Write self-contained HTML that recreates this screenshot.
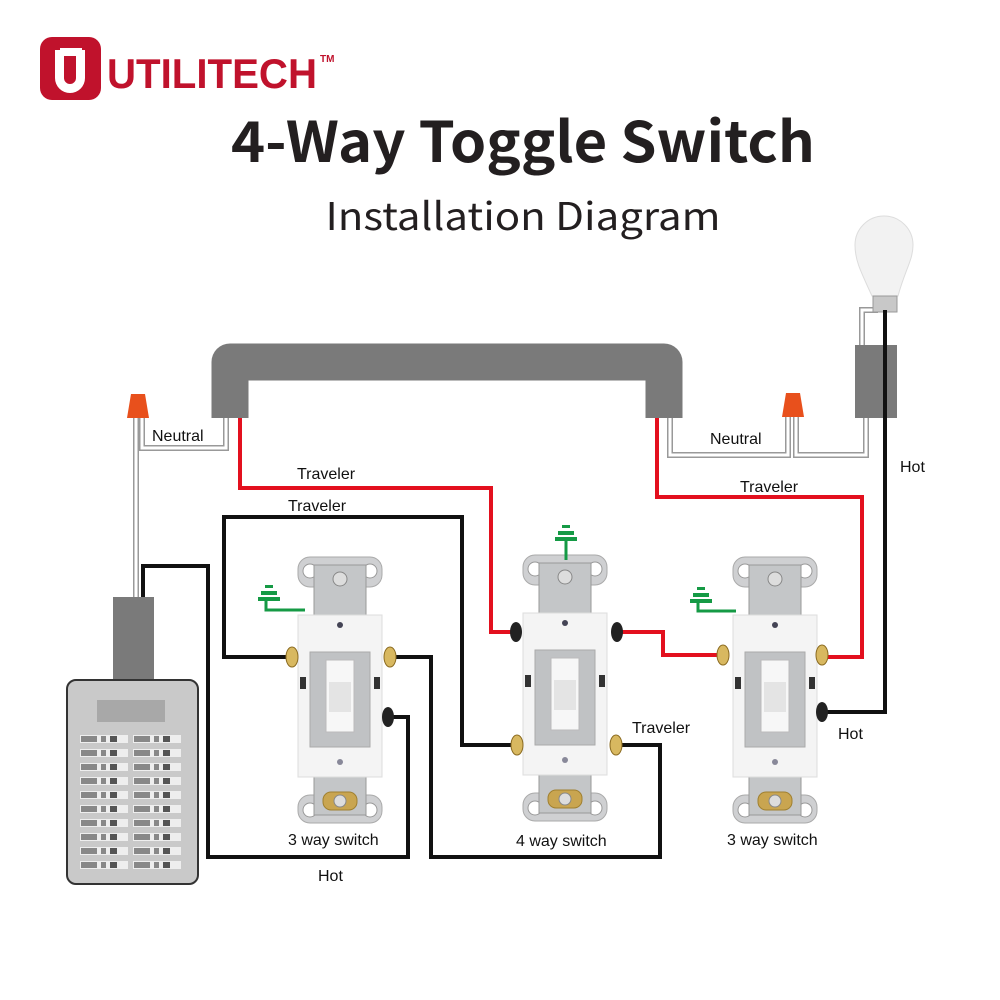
<!DOCTYPE html>
<html><head><meta charset="utf-8"><style>
html,body{margin:0;padding:0;background:#fff;}
svg{display:block;}
text{font-family:"Liberation Sans",Arial,sans-serif;}
.t{font-family:"Noto Sans CJK JP","DejaVu Sans",sans-serif;}
</style></head><body>
<svg width="1000" height="1000" viewBox="0 0 1000 1000" xmlns="http://www.w3.org/2000/svg">
<defs>
<g id="sw">
  <rect x="-42" y="0" width="84" height="30" rx="12" fill="#cfd0d2" stroke="#aaa"/>
  <circle cx="-30" cy="14" r="7" fill="#fff" stroke="#999"/>
  <circle cx="30" cy="14" r="7" fill="#fff" stroke="#999"/>
  <rect x="-42" y="238" width="84" height="28" rx="12" fill="#cfd0d2" stroke="#aaa"/>
  <circle cx="-30" cy="253" r="7" fill="#fff" stroke="#999"/>
  <circle cx="30" cy="253" r="7" fill="#fff" stroke="#999"/>
  <rect x="-26" y="8" width="52" height="250" fill="#c4c6c8" stroke="#999"/>
  <rect x="-42" y="58" width="84" height="162" fill="#f4f4f4" stroke="#ddd"/>
  <rect x="-30" y="95" width="60" height="95" fill="#c0c2c4" stroke="#aaa"/>
  <rect x="-14" y="103" width="28" height="72" fill="#f7f7f7" stroke="#bbb"/>
  <rect x="-11" y="125" width="22" height="30" fill="#e4e4e4"/>
  <circle cx="0" cy="22" r="7" fill="#ddd" stroke="#888"/>
  <circle cx="0" cy="68" r="3" fill="#445"/>
  <circle cx="0" cy="205" r="3" fill="#889"/>
  <rect x="-17" y="235" width="34" height="18" rx="8" fill="#c9a550" stroke="#a08030"/>
  <circle cx="0" cy="244" r="6" fill="#ddd" stroke="#888"/>
  <rect x="-40" y="120" width="6" height="12" fill="#333"/>
  <rect x="34" y="120" width="6" height="12" fill="#333"/>
</g>
<g id="gnd" fill="#159a45">
  <rect x="-4" y="0" width="8" height="3"/>
  <rect x="-8" y="6" width="16" height="4"/>
  <rect x="-11" y="12" width="22" height="4"/>
</g>
</defs>

<rect x="40" y="37" width="61" height="63" rx="12" fill="#c0122c"/>
<path d="M55 50 V78 a15 15 0 0 0 30 0 V50 h-9 V78 a6 6 0 0 1 -12 0 V50 z" fill="#fff"/>
<rect x="60" y="48" width="22" height="8" fill="#fff"/>
<text x="107" y="88" font-size="42" font-weight="bold" fill="#c0122c" textLength="210" lengthAdjust="spacingAndGlyphs">UTILITECH</text>
<text x="320" y="62" font-size="10" font-weight="bold" fill="#c0122c">TM</text>

<text class="t" x="523" y="162" text-anchor="middle" font-size="56" font-weight="bold" fill="#231f20" textLength="584" lengthAdjust="spacingAndGlyphs">4-Way Toggle Switch</text>
<text class="t" x="523" y="230" text-anchor="middle" font-size="38" fill="#231f20" textLength="395" lengthAdjust="spacingAndGlyphs">Installation Diagram</text>

<g fill="none" stroke="#999" stroke-width="6">
  <path d="M136 418 V597"/><path d="M142 418 V448 H226 V418"/>
  <path d="M670 418 V455 H788 V417"/><path d="M796 417 V455 H866 V418"/>
  <path d="M862 345 V310 H878"/>
</g>
<g fill="none" stroke="#fff" stroke-width="3">
  <path d="M136 418 V597"/><path d="M142 418 V448 H226 V418"/>
  <path d="M670 418 V455 H788 V417"/><path d="M796 417 V455 H866 V418"/>
  <path d="M862 345 V310 H878"/>
</g>

<path d="M230 418 V362 H664 V418" fill="none" stroke="#7a7a7a" stroke-width="37" stroke-linejoin="round"/>
<rect x="855" y="345" width="42" height="73" fill="#7a7a7a"/>
<rect x="113" y="597" width="41" height="83" fill="#7a7a7a"/>

<path d="M131 394 H145 L149 418 H127 Z" fill="#e8501c"/>
<path d="M786 393 H800 L804 417 H782 Z" fill="#e8501c"/>

<path d="M872 296 C860 270 855 260 855 245 A29 29 0 0 1 913 245 C913 260 905 270 898 296 Z" fill="#f2f2f2" stroke="#ddd"/>
<rect x="873" y="296" width="24" height="16" fill="#c8c8c8" stroke="#999"/>

<g fill="none" stroke="#e3101e" stroke-width="4">
  <path d="M240 418 V488 H491 V632 H515"/>
  <path d="M657 418 V497 H862 V657 H822"/>
  <path d="M618 632 H663 V655 H722"/>
</g>
<g fill="none" stroke="#111" stroke-width="4">
  <path d="M292 657 H224 V517 H462 V745 H515"/>
  <path d="M392 657 H431 V857 H660 V745 H618"/>
  <path d="M390 717 H408 V857 H208 V566 H143 V597"/>
  <path d="M885 310 V712 H822"/>
</g>

<rect x="67" y="680" width="131" height="204" rx="9" fill="#c9c9c9" stroke="#333" stroke-width="2"/>
<rect x="97" y="700" width="68" height="22" fill="#a8a8a8"/>
<g id="brk">
  <rect x="80" y="735" width="48" height="8" fill="#eee"/>
  <rect x="81" y="736" width="16" height="6" fill="#888"/><rect x="101" y="736" width="5" height="6" fill="#888"/><rect x="110" y="736" width="7" height="6" fill="#555"/>
  <rect x="133" y="735" width="48" height="8" fill="#eee"/>
  <rect x="134" y="736" width="16" height="6" fill="#888"/><rect x="154" y="736" width="5" height="6" fill="#888"/><rect x="163" y="736" width="7" height="6" fill="#555"/>
</g>
<use href="#brk" y="14"/><use href="#brk" y="28"/><use href="#brk" y="42"/><use href="#brk" y="56"/>
<use href="#brk" y="70"/><use href="#brk" y="84"/><use href="#brk" y="98"/><use href="#brk" y="112"/><use href="#brk" y="126"/>

<use href="#sw" x="340" y="557"/>
<use href="#sw" x="565" y="555"/>
<use href="#sw" x="775" y="557"/>
<g fill="#d8b860" stroke="#8a6a20">
  <ellipse cx="292" cy="657" rx="6" ry="10"/><ellipse cx="390" cy="657" rx="6" ry="10"/>
  <ellipse cx="517" cy="745" rx="6" ry="10"/><ellipse cx="616" cy="745" rx="6" ry="10"/>
  <ellipse cx="723" cy="655" rx="6" ry="10"/><ellipse cx="822" cy="655" rx="6" ry="10"/>
</g>
<g fill="#222">
  <ellipse cx="388" cy="717" rx="6" ry="10"/>
  <ellipse cx="516" cy="632" rx="6" ry="10"/><ellipse cx="617" cy="632" rx="6" ry="10"/>
  <ellipse cx="822" cy="712" rx="6" ry="10"/>
</g>

<use href="#gnd" x="269" y="585"/>
<path d="M266 601 V610 H305" fill="none" stroke="#159a45" stroke-width="3"/>
<use href="#gnd" x="566" y="525"/>
<path d="M566 541 V560" stroke="#159a45" stroke-width="3"/>
<use href="#gnd" x="701" y="587"/>
<path d="M698 603 V611 H736" fill="none" stroke="#159a45" stroke-width="3"/>

<g font-size="16" fill="#111">
  <text x="152" y="441">Neutral</text>
  <text x="710" y="444">Neutral</text>
  <text x="297" y="479">Traveler</text>
  <text x="288" y="511">Traveler</text>
  <text x="740" y="492">Traveler</text>
  <text x="632" y="733">Traveler</text>
  <text x="900" y="472">Hot</text>
  <text x="838" y="739">Hot</text>
  <text x="318" y="881">Hot</text>
  <text x="288" y="845">3 way switch</text>
  <text x="516" y="846">4 way switch</text>
  <text x="727" y="845">3 way switch</text>
</g>
</svg>
</body></html>
